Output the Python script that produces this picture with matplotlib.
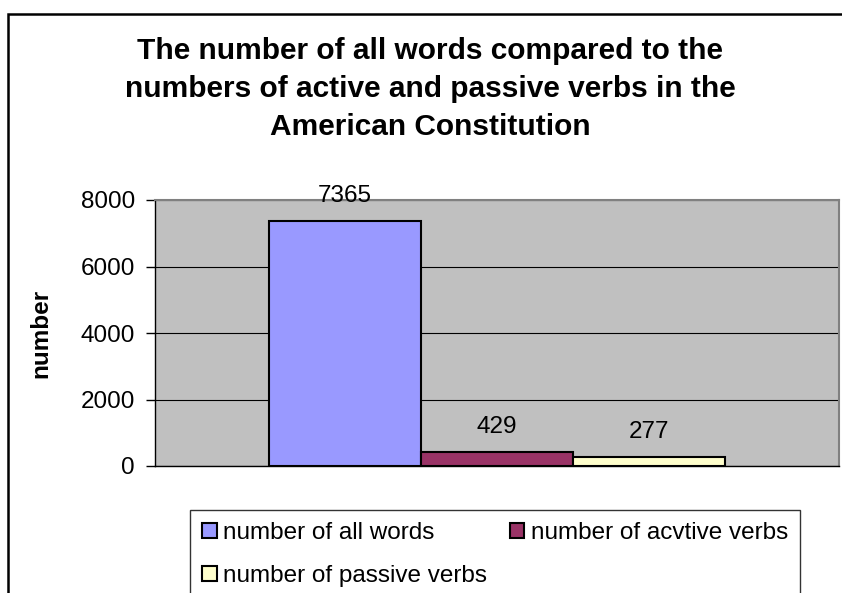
import matplotlib
matplotlib.use("Agg")
import matplotlib.pyplot as plt
from matplotlib.patches import Rectangle

# data
series = ["number of all words", "number of acvtive verbs", "number of passive verbs"]
values = [7365, 429, 277]
colors = ["#9999FF", "#993366", "#FFFFCC"]
yticks = [0, 2000, 4000, 6000, 8000]

plt.rcParams["font.family"] = ["Liberation Sans", "DejaVu Sans"]

W, H = 842, 593
fig = plt.figure(figsize=(W / 100, H / 100), dpi=100)
fig.patch.set_facecolor("white")

# chart-area frame (cut off at right and bottom in the reference)
fig.add_artist(Rectangle((8 / W, -0.2), 1.2, 1 - 14 / H + 0.2, transform=fig.transFigure,
                         fill=False, edgecolor="black", lw=1.8))

ax = fig.add_axes([155 / W, 1 - 466 / H, 684 / W, 266 / H])
ax.set_facecolor("#C0C0C0")

xs = [-1, 0, 1]
handles = []
for x, v, c, s in zip(xs, values, colors, series):
    b = ax.bar(x, v, width=1.0, color=c, edgecolor="black", linewidth=1.5, label=s, zorder=3)
    handles.append(b)
    ax.annotate(str(v), (x, v), xytext=(0, 18), textcoords="offset points",
                ha="center", va="center", fontsize=17.5, zorder=4)

ax.set_xlim(-2.25, 2.25)
ax.set_ylim(0, 8000)
ax.set_yticks(yticks)
ax.set_yticklabels([str(t) for t in yticks], fontsize=17.5)
ax.set_xticks([])
ax.tick_params(axis="y", direction="out", length=6.5, width=1, pad=8)
ax.yaxis.grid(True, color="black", linewidth=0.8, zorder=1)
ax.set_axisbelow(True)

for side in ["top", "right"]:
    ax.spines[side].set_color("#808080")
    ax.spines[side].set_linewidth(1.5)
ax.spines["left"].set_color("black")
ax.spines["bottom"].set_color("black")
ax.spines["left"].set_linewidth(1)
ax.spines["bottom"].set_linewidth(1)

ax.set_ylabel("number", fontsize=17.5, fontweight="bold")
ax.yaxis.set_label_coords((52 - 155) / 684, 0.5)

fig.text(430 / W, 1 - 37 / H,
         "The number of all words compared to the\n"
         "numbers of active and passive verbs in the\n"
         "American Constitution",
         ha="center", va="top", fontsize=21.5, fontweight="bold", linespacing=1.45)

# row-wise order like the reference: all, active / passive
order = [0, 2, 1]
leg = fig.legend([handles[i] for i in order], [series[i] for i in order],
                 loc="upper left", bbox_to_anchor=(190 / W, 1 - 510 / H), ncol=2,
                 fontsize=17.5, frameon=True, fancybox=False, shadow=False,
                 handlelength=0.6, handleheight=0.6, handletextpad=0.25,
                 columnspacing=0.95, labelspacing=0.85, borderpad=0.5, borderaxespad=0)
leg.get_frame().set_edgecolor("black")
leg.get_frame().set_linewidth(1)
for p in leg.get_patches():
    p.set_linewidth(1.5)

fig.savefig("out.png", dpi=100)
